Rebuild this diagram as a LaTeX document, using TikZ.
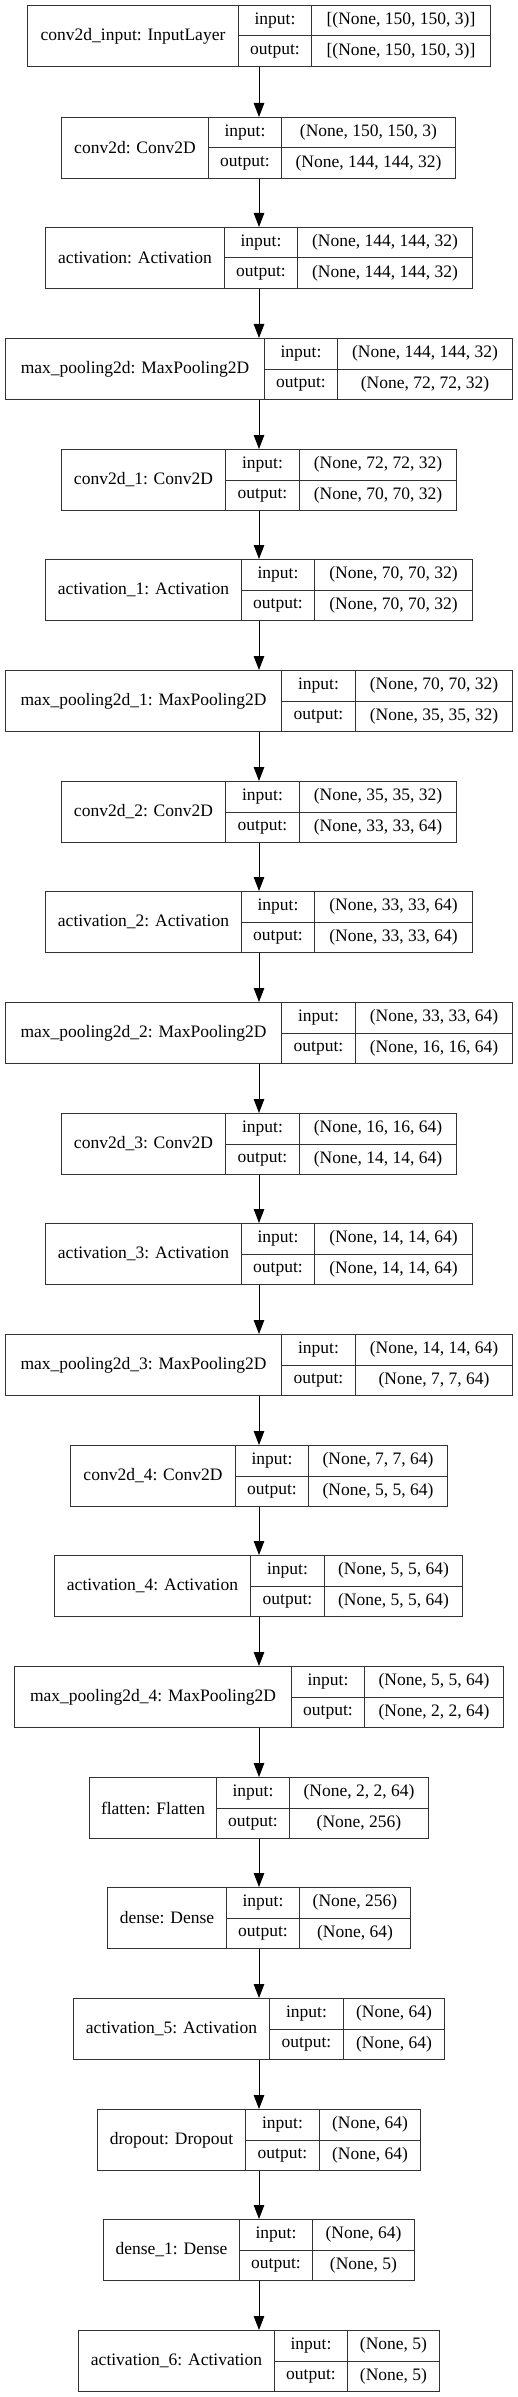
\documentclass[tikz,border=0pt]{standalone}
\usepackage{fontspec}
\setmainfont{Liberation Serif}
\usetikzlibrary{arrows.meta,positioning}

% #1 name, #2 top, #3 left, #4 first divider, #5 second divider, #6 right, #7 title, #8 input, #9 output
\newcommand{\layerbox}[9]{%
\node[cell, minimum width={(#4-#3)*1pt}, minimum height=61pt] (#1) at (#3,-#2) {#7};
\node[cell, minimum width={(#5-#4)*1pt}, minimum height=30.5pt] (#1-i) at (#4,-#2) {input:};
\node[cell, minimum width={(#6-#5)*1pt}, minimum height=30.5pt] (#1-iv) at (#5,-#2) {#8};
\node[cell, minimum width={(#5-#4)*1pt}, minimum height=30.5pt] (#1-o) at (#4,{-#2-30.5}) {output:};
\node[cell, minimum width={(#6-#5)*1pt}, minimum height=30.5pt] (#1-ov) at (#5,{-#2-30.5}) {#9};
}

\begin{document}
\begin{tikzpicture}[x=1pt,y=1pt,
cell/.style = {draw=black!80, line width=1pt, anchor=north west, inner sep=0pt,
  font=\fontsize{17.5}{20}\selectfont},
flow/.style = {-{Triangle[length=14pt,width=10.5pt]}, line width=1pt}]
\useasboundingbox (0,0) rectangle (517,-2397);
\coordinate (axis) at (259,0);

\layerbox{input}{5}{27}{238}{311}{490}{conv2d\_input: InputLayer}{[(None, 150, 150, 3)]}{[(None, 150, 150, 3)]}
\layerbox{conv0}{117}{61}{208}{281}{455}{conv2d: Conv2D}{(None, 150, 150, 3)}{(None, 144, 144, 32)}
\layerbox{act0}{227}{45}{224}{297}{472}{activation: Activation}{(None, 144, 144, 32)}{(None, 144, 144, 32)}
\layerbox{pool0}{338}{5}{264}{337}{512}{max\_pooling2d: MaxPooling2D}{(None, 144, 144, 32)}{(None, 72, 72, 32)}

\layerbox{conv1}{449}{61}{225}{299}{456}{conv2d\_1: Conv2D}{(None, 72, 72, 32)}{(None, 70, 70, 32)}
\layerbox{act1}{559}{45}{241}{314}{472}{activation\_1: Activation}{(None, 70, 70, 32)}{(None, 70, 70, 32)}
\layerbox{pool1}{670}{5}{281}{355}{512}{max\_pooling2d\_1: MaxPooling2D}{(None, 70, 70, 32)}{(None, 35, 35, 32)}

\layerbox{conv2}{781}{61}{225}{299}{456}{conv2d\_2: Conv2D}{(None, 35, 35, 32)}{(None, 33, 33, 64)}
\layerbox{act2}{891}{45}{241}{314}{472}{activation\_2: Activation}{(None, 33, 33, 64)}{(None, 33, 33, 64)}
\layerbox{pool2}{1002}{5}{281}{355}{512}{max\_pooling2d\_2: MaxPooling2D}{(None, 33, 33, 64)}{(None, 16, 16, 64)}

\layerbox{conv3}{1113}{61}{225}{299}{456}{conv2d\_3: Conv2D}{(None, 16, 16, 64)}{(None, 14, 14, 64)}
\layerbox{act3}{1223}{45}{241}{314}{472}{activation\_3: Activation}{(None, 14, 14, 64)}{(None, 14, 14, 64)}
\layerbox{pool3}{1334}{5}{281}{355}{512}{max\_pooling2d\_3: MaxPooling2D}{(None, 14, 14, 64)}{(None, 7, 7, 64)}

\layerbox{conv4}{1445}{70}{235}{308}{447}{conv2d\_4: Conv2D}{(None, 7, 7, 64)}{(None, 5, 5, 64)}
\layerbox{act4}{1555}{54}{250}{324}{462}{activation\_4: Activation}{(None, 5, 5, 64)}{(None, 5, 5, 64)}
\layerbox{pool4}{1666}{14}{291}{364}{503}{max\_pooling2d\_4: MaxPooling2D}{(None, 5, 5, 64)}{(None, 2, 2, 64)}

\layerbox{flat}{1777}{89}{216}{289}{428}{flatten: Flatten}{(None, 2, 2, 64)}{(None, 256)}
\layerbox{dense0}{1887}{107}{226}{299}{410}{dense: Dense}{(None, 256)}{(None, 64)}
\layerbox{act5}{1998}{73}{269}{343}{444}{activation\_5: Activation}{(None, 64)}{(None, 64)}
\layerbox{drop}{2109}{97}{245}{319}{420}{dropout: Dropout}{(None, 64)}{(None, 64)}
\layerbox{dense1}{2219}{103}{239}{312}{414}{dense\_1: Dense}{(None, 64)}{(None, 5)}
\layerbox{act6}{2330}{78}{274}{347}{439}{activation\_6: Activation}{(None, 5)}{(None, 5)}

\foreach \a/\b in {input/conv0, conv0/act0, act0/pool0, pool0/conv1, conv1/act1, act1/pool1,
  pool1/conv2, conv2/act2, act2/pool2, pool2/conv3, conv3/act3, act3/pool3, pool3/conv4,
  conv4/act4, act4/pool4, pool4/flat, flat/dense0, dense0/act5, act5/drop, drop/dense1, dense1/act6}
  \draw[flow] (\a.south -| axis) -- (\b.north -| axis);
\end{tikzpicture}
\end{document}
